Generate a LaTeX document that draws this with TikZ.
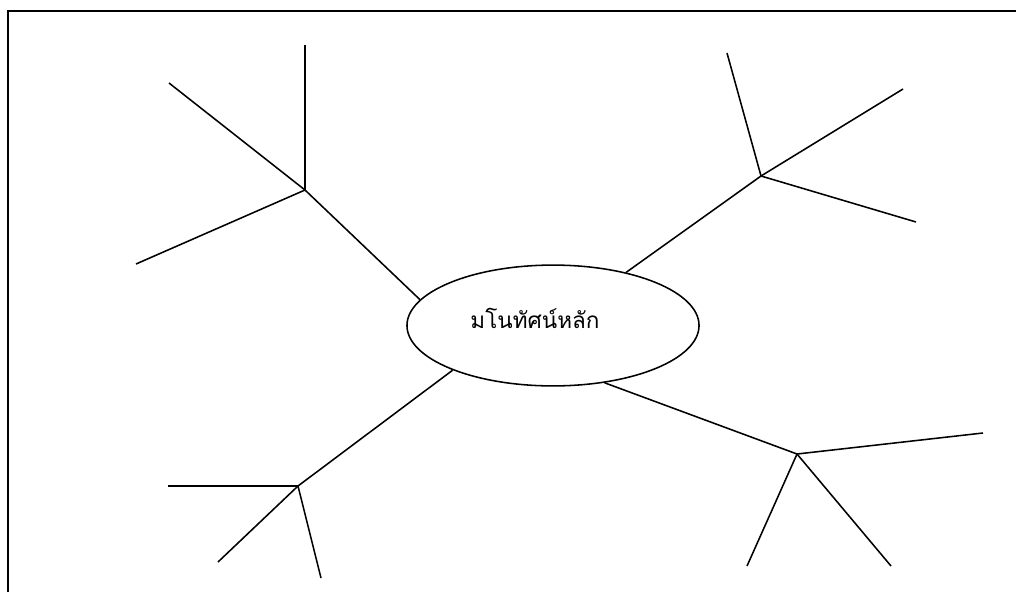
\documentclass[tikz,border=0pt]{standalone}
\usepackage{fontspec}
\newfontfamily\thaifont[Script=Thai]{Loma}
\usetikzlibrary{shapes.geometric,positioning}

\begin{document}
\begin{tikzpicture}[x=0.025cm,y=-0.025cm,
    branch/.style={line width=1.1pt},
    idea/.style={draw,ellipse,line width=1.1pt,minimum width=7.3cm,minimum height=3.02cm,inner sep=0pt}]
    \useasboundingbox (0,0) rectangle (1016,592);
    \draw[line width=1.1pt] (8,592) -- (8,11) -- (1016,11);

    % central concept
    \node[idea] (main) at (553,325.5) {};
    \node[inner sep=0pt] (mainlabel) at (535,318) {\thaifont\fontsize{16}{20}\selectfont มโนทัศน์หลัก};

    % hubs
    \coordinate (hubTL) at (305,190);
    \coordinate (hubTR) at (761,176);
    \coordinate (hubBL) at (298,486);
    \coordinate (hubBR) at (797,454);

    % leaf ends
    \foreach \n/\x/\y in {tl1/305/45,tl2/169/83,tl3/136/264,
                          tr1/727/53,tr2/903/89,tr3/916/222,
                          bl1/168/486,bl2/218/562,bl3/321/578,
                          br1/983/433,br2/747/566,br3/891/566}
        \coordinate (\n) at (\x,\y);

    \draw[branch] (main.169) -- (hubTL);
    \draw[branch] (main.36) -- (hubTR);
    \draw[branch] (main.204) -- (hubBL);
    \draw[branch] (main.312) -- (hubBR);

    \foreach \h/\l in {hubTL/tl1,hubTL/tl2,hubTL/tl3,
                       hubTR/tr1,hubTR/tr2,hubTR/tr3,
                       hubBL/bl1,hubBL/bl2,hubBL/bl3,
                       hubBR/br1,hubBR/br2,hubBR/br3}
        \draw[branch] (\h) -- (\l);
\end{tikzpicture}
\end{document}
